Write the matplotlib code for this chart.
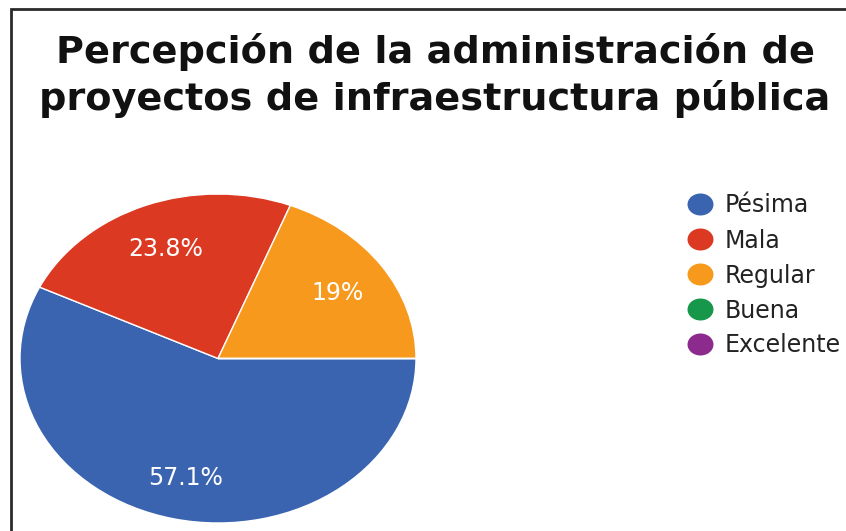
import matplotlib
matplotlib.use("Agg")
import matplotlib.pyplot as plt
from matplotlib.path import Path
from matplotlib.markers import MarkerStyle
from matplotlib.transforms import Affine2D

# ---- data ----
categories = ["Pésima", "Mala", "Regular", "Buena", "Excelente"]
counts = [12, 5, 4, 0, 0]
colors = ["#3a64b0", "#dc3923", "#f7991d", "#17974a", "#8c2a8e"]
title_lines = ["Percepción de la administración de",
               "proyectos de infraestructura pública"]

W, H = 846, 531
fig = plt.figure(figsize=(W / 100, H / 100), dpi=100)
fig.patch.set_facecolor("white")

# pie axes (stretched ellipse like reference)
px_l, px_r, px_t, px_b = 20, 416, 194, 523
ax = fig.add_axes([px_l / W, (H - px_b) / H, (px_r - px_l) / W, (px_b - px_t) / H])


def fmt(p):
    if p <= 0.01:
        return ""
    s = f"{p:.1f}".rstrip("0").rstrip(".")
    return s + "%"


wedges, texts, autotexts = ax.pie(
    counts, colors=colors, startangle=0, counterclock=False,
    autopct=fmt, pctdistance=0.73, radius=1.0,
    wedgeprops=dict(edgecolor="white", linewidth=1.0),
    textprops=dict(color="white", fontsize=17, family="DejaVu Sans"),
)
for t in autotexts:
    t.set_va("center_baseline")
ax.set_aspect("auto")
ax.set_xlim(-1, 1)
ax.set_ylim(-1, 1)
ax.axis("off")

# overlay axes in pixel coordinates
ov = fig.add_axes([0, 0, 1, 1], zorder=5)
ov.set_xlim(0, W)
ov.set_ylim(H, 0)
ov.axis("off")
ov.patch.set_alpha(0)

# border lines
ov.plot([10.5, 10.5, W], [H, 8.5, 8.5], color="#2a2a2a", lw=2.0,
        solid_joinstyle="miter", solid_capstyle="butt")

# title
for i, line in enumerate(title_lines):
    ov.text(435, 63 + 47 * i, line, ha="center", va="baseline",
            fontsize=27.5, fontweight="bold", color="#111111",
            family="DejaVu Sans")

# legend
ell = Path.unit_circle().transformed(Affine2D().scale(1.18, 1.0))
mk = MarkerStyle(ell)
for i, (cat, col) in enumerate(zip(categories, colors)):
    y = 204 + 35 * i
    ov.plot([700], [y], marker=mk, markersize=18.7, color=col,
            markeredgewidth=0, linestyle="none")
    ov.text(725, y + 8.5, cat, ha="left", va="baseline", fontsize=17,
            color="#222222", family="DejaVu Sans")

fig.savefig("out.png", dpi=100, facecolor="white")
